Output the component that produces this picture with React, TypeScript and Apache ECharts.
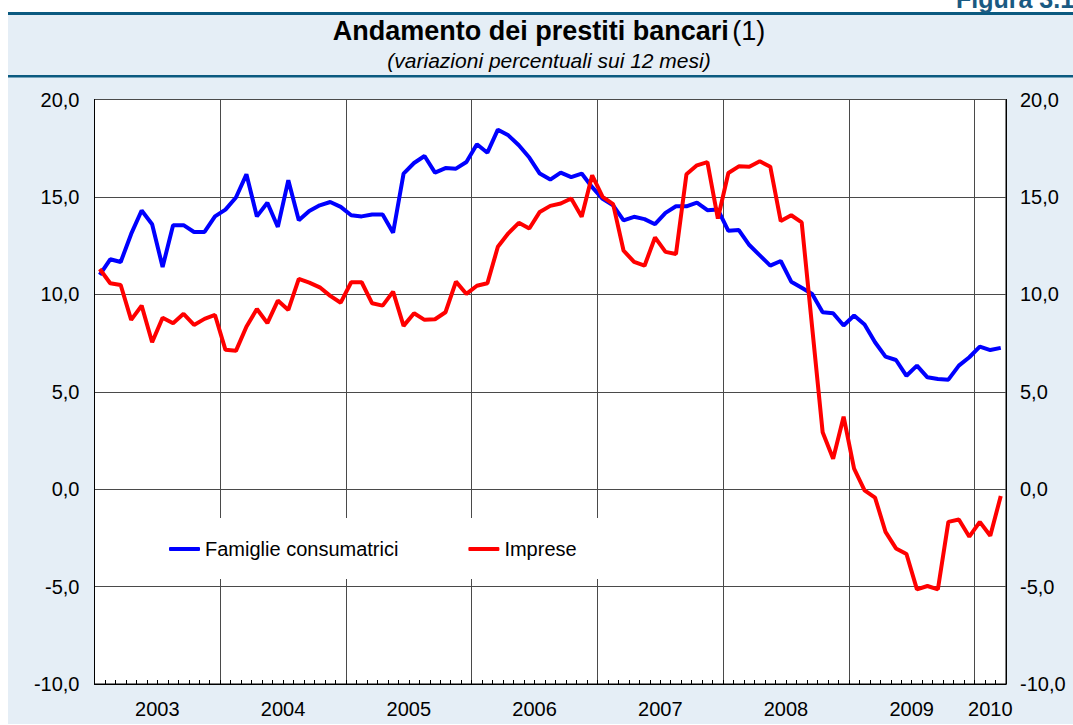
import React, { useEffect, useRef } from "react";
import * as echarts from "echarts";

const FONT = "'Liberation Sans', Arial, Helvetica, sans-serif";

// Calendar of the x axis: monthly observations, Jan 2003 – Mar 2010
const years = [2003, 2004, 2005, 2006, 2007, 2008, 2009, 2010];
const monthsInYear = [12, 12, 12, 12, 12, 12, 12, 3];

// Y axis
const yMin = -10;
const yMax = 20;
const yStep = 5;

const seriesNames = ["Famiglie consumatrici", "Imprese"];

// 12-month % changes
const famiglie = [
  11.0, 11.8, 11.66, 13.1, 14.3, 13.6, 11.4, 13.55, 13.55, 13.2, 13.2, 14.0,
  14.35, 14.97, 16.16, 14.0, 14.7, 13.46, 15.86, 13.8, 14.28, 14.57, 14.74, 14.49,
  14.06, 14.0, 14.1, 14.1, 13.16, 16.2, 16.74, 17.1, 16.25, 16.48, 16.45, 16.79,
  17.7, 17.27, 18.45, 18.16, 17.65, 17.02, 16.2, 15.89, 16.25, 16.02, 16.2, 15.5,
  14.9, 14.57, 13.8, 13.98, 13.86, 13.6, 14.18, 14.52, 14.52, 14.71, 14.32, 14.35,
  13.26, 13.3, 12.53, 12.0, 11.47, 11.71, 10.65, 10.34, 10.02, 9.08, 9.03, 8.4,
  8.91, 8.45, 7.54, 6.8, 6.63, 5.82, 6.34, 5.74, 5.65, 5.62, 6.34, 6.77,
  7.32, 7.14, 7.25,
];

const imprese = [
  11.3, 10.57, 10.48, 8.69, 9.42, 7.54, 8.8, 8.52, 9.0, 8.43, 8.74, 8.94,
  7.15, 7.1, 8.34, 9.25, 8.52, 9.68, 9.2, 10.79, 10.6, 10.36, 9.92, 9.57,
  10.62, 10.62, 9.54, 9.42, 10.14, 8.38, 9.03, 8.69, 8.72, 9.08, 10.65, 10.02,
  10.44, 10.57, 12.44, 13.13, 13.67, 13.38, 14.23, 14.54, 14.66, 14.92, 13.98, 16.11,
  15.0, 14.63, 12.24, 11.67, 11.47, 12.92, 12.18, 12.07, 16.16, 16.62, 16.79, 13.89,
  16.23, 16.57, 16.55, 16.83, 16.55, 13.76, 14.06, 13.69, 8.3, 2.92, 1.56, 3.72,
  1.05, -0.06, -0.43, -2.19, -3.04, -3.33, -5.14, -4.97, -5.14, -1.68, -1.56, -2.44,
  -1.68, -2.39, -0.35,
];

// categories built from the calendar above
const months: string[] = [];
years.forEach((y, yi) => {
  for (let m = 1; m <= monthsInYear[yi]; m++) {
    months.push(`${y}-${String(m).padStart(2, "0")}`);
  }
});

// year label placement: centre of each year's span of months
const yearLabelAt: Record<number, string> = {};
{
  let start = 0;
  years.forEach((y, yi) => {
    const n = monthsInYear[yi];
    const mid = (n - 1) / 2;
    const idx = start + Math.floor(mid);
    yearLabelAt[idx] = Number.isInteger(mid) ? `{c|${y}}` : `{s|${y}}`;
    start += n;
  });
}

const fmtY = (v: number) => v.toFixed(1).replace(".", ",");

export default function App() {
  const ref = useRef<HTMLDivElement>(null);

  useEffect(() => {
    if (!ref.current) return;
    const chart = echarts.init(ref.current, undefined, { renderer: "svg" });

    const gridLeft = 94.5;
    const gridTop = 99.5;
    const gridWidth = 911.5;
    const gridHeight = 584.5;
    const monthW = gridWidth / months.length;

    const yAxisCommon = {
      type: "value",
      min: yMin,
      max: yMax,
      interval: yStep,
      axisLine: { show: true, lineStyle: { color: "#000", width: 1 } },
      axisTick: { show: false },
      axisLabel: {
        formatter: fmtY,
        fontSize: 20,
        color: "#000",
        fontFamily: FONT,
      },
    };

    const option: any = {
      animation: false,
      backgroundColor: "#ffffff",
      textStyle: { fontFamily: FONT },
      graphic: [
        {
          type: "rect",
          z: -20,
          silent: true,
          shape: { x: 8, y: 12, width: 1065, height: 712 },
          style: { fill: "#e5eef6" },
        },
        {
          type: "rect",
          z: -19,
          silent: true,
          shape: { x: 8, y: 12, width: 1065, height: 3 },
          style: { fill: "#0b5a80" },
        },
        {
          type: "rect",
          z: -19,
          silent: true,
          shape: { x: 8, y: 75, width: 1065, height: 2.5 },
          style: { fill: "#0b5a80" },
        },
        {
          type: "text",
          x: 956,
          y: -1,
          style: {
            text: "Figura 3.1",
            font: `bold 25px ${FONT}`,
            fill: "#1a5a82",
            verticalAlign: "middle",
          },
        },
        {
          type: "text",
          x: 549,
          y: 31,
          style: {
            text: "{b|Andamento dei prestiti bancari} {n|(1)}",
            align: "center",
            verticalAlign: "middle",
            rich: {
              b: { font: `bold 27px ${FONT}`, fill: "#000" },
              n: { font: `27px ${FONT}`, fill: "#000" },
            },
          },
        },
        {
          type: "text",
          x: 549,
          y: 60,
          style: {
            text: "(variazioni percentuali sui 12 mesi)",
            align: "center",
            verticalAlign: "middle",
            font: `italic 21px ${FONT}`,
            fill: "#000",
          },
        },
      ],
      grid: {
        left: gridLeft,
        top: gridTop,
        width: gridWidth,
        height: gridHeight,
        show: true,
        backgroundColor: "#ffffff",
        borderColor: "#000",
        borderWidth: 1,
        containLabel: false,
        outerBoundsMode: "none",
      },
      legend: {
        left: 150,
        top: 518,
        padding: [21, 64, 20, 19],
        backgroundColor: "#ffffff",
        itemWidth: 31,
        itemHeight: 4,
        itemGap: 70,
        icon: "roundRect",
        data: seriesNames,
        textStyle: { fontSize: 20, color: "#000", fontFamily: FONT },
      },
      xAxis: {
        type: "category",
        data: months,
        boundaryGap: true,
        axisLine: {
          show: true,
          onZero: false,
          lineStyle: { color: "#000", width: 1 },
        },
        axisTick: {
          show: true,
          inside: true,
          length: 4,
          interval: 0,
          lineStyle: { color: "#000", width: 1 },
        },
        splitLine: {
          show: true,
          interval: (_i: number, v: string) => v.endsWith("-01"),
          lineStyle: { color: "#4a4a4a", width: 1 },
        },
        axisLabel: {
          interval: 0,
          margin: 15,
          fontSize: 20,
          color: "#000",
          fontFamily: FONT,
          formatter: (_v: string, i: number) => yearLabelAt[i] || "",
          rich: {
            s: {
              fontSize: 20,
              fontFamily: FONT,
              color: "#000",
              padding: [0, 0, 0, monthW],
            },
            c: { fontSize: 20, fontFamily: FONT, color: "#000" },
          },
        },
      },
      yAxis: [
        {
          ...yAxisCommon,
          position: "left",
          splitLine: { show: true, lineStyle: { color: "#4a4a4a", width: 1 } },
          axisLabel: { ...yAxisCommon.axisLabel, margin: 15 },
        },
        {
          ...yAxisCommon,
          position: "right",
          splitLine: { show: false },
          axisLabel: { ...yAxisCommon.axisLabel, margin: 14 },
        },
      ],
      series: [
        {
          name: seriesNames[0],
          type: "line",
          data: famiglie,
          showSymbol: false,
          symbol: "none",
          lineStyle: { color: "#0000ff", width: 4 },
          itemStyle: { color: "#0000ff" },
          z: 3,
        },
        {
          name: seriesNames[1],
          type: "line",
          data: imprese,
          showSymbol: false,
          symbol: "none",
          lineStyle: { color: "#ff0000", width: 4 },
          itemStyle: { color: "#ff0000" },
          z: 4,
        },
      ],
    };

    chart.setOption(option);
    return () => chart.dispose();
  }, []);

  return (
    <div
      ref={ref}
      style={{ position: "fixed", left: 0, top: 0, width: 1073, height: 725 }}
    />
  );
}
